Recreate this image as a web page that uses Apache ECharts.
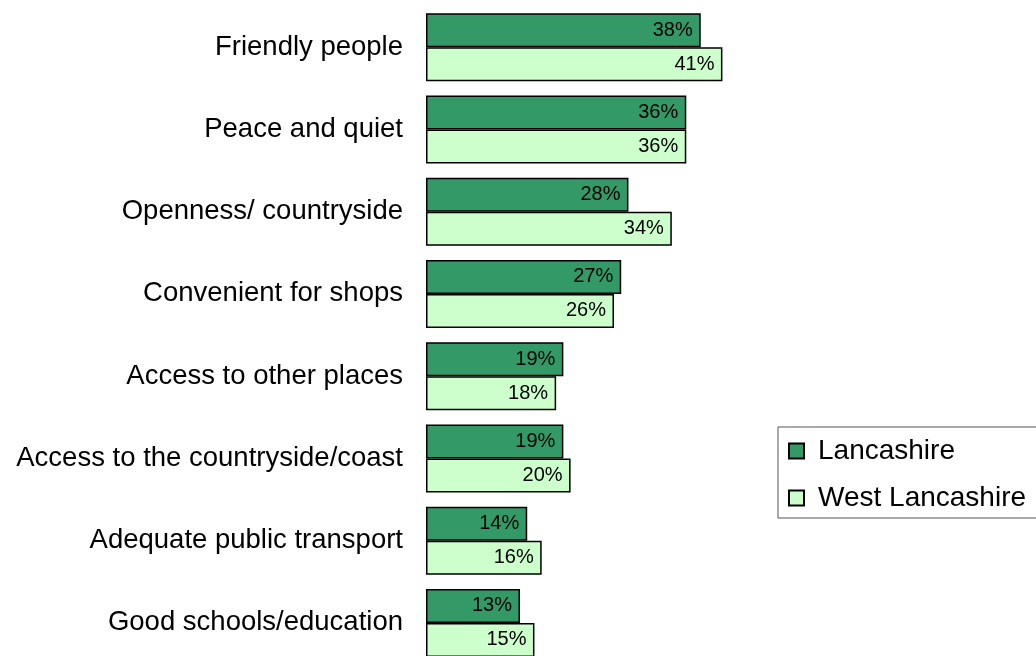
<!DOCTYPE html>
<html>
<head>
<meta charset="utf-8">
<script src="https://cdn.jsdelivr.net/npm/echarts@6/dist/echarts.min.js"></script>
<style>html,body{margin:0;padding:0;background:#fff;overflow:hidden;width:1036px;height:656px}#c{width:1036px;height:672px}</style>
</head>
<body>
<div id="c"></div>
<script>
const categories = ["Friendly people","Peace and quiet","Openness/ countryside","Convenient for shops","Access to other places","Access to the countryside/coast","Adequate public transport","Good schools/education"];
const lancashire = [38,36,28,27,19,19,14,13];
const westLancashire = [41,36,34,26,18,20,16,15];
const seriesNames = ["Lancashire","West Lancashire"];

const chart = echarts.init(document.getElementById('c'));
const font = '"Liberation Sans", Arial, sans-serif';
const pxPerUnit = 7.23;
const xMax = 60;
chart.setOption({
  animation: false,
  backgroundColor: '#fff',
  textStyle: {fontFamily: font},
  grid: {left: 426, top: 6, width: xMax * pxPerUnit, height: 658, containLabel: false},
  xAxis: {type: 'value', min: 0, max: xMax, show: false},
  yAxis: {
    type: 'category', data: categories, inverse: true,
    axisLine: {show: false}, axisTick: {show: false}, splitLine: {show: false},
    axisLabel: {fontSize: 27.5, color: '#000', margin: 23, fontFamily: font, padding: [4, 0, 0, 0]}
  },
  legend: {
    orient: 'vertical', left: 778, top: 427,
    data: seriesNames,
    icon: 'rect', itemWidth: 15, itemHeight: 15, itemGap: 17,
    padding: [9, 20, 5, 10],
    borderColor: '#555', borderWidth: 1, borderRadius: 0,
    textStyle: {fontSize: 28, color: '#000', fontFamily: font, lineHeight: 30, padding: [0,0,0,9]}
  },
  series: [
    {
      name: seriesNames[0], type: 'bar', data: lancashire, barWidth: 34, barGap: '0%',
      itemStyle: {color: '#339966', borderColor: '#000', borderWidth: 1.5},
      label: {show: true, position: 'insideRight', distance: 8, formatter: '{c}%', fontSize: 20, color: '#000', fontFamily: font}
    },
    {
      name: seriesNames[1], type: 'bar', data: westLancashire, barWidth: 34, barGap: '0%',
      itemStyle: {color: '#CCFFCC', borderColor: '#000', borderWidth: 1.5},
      label: {show: true, position: 'insideRight', distance: 8, formatter: '{c}%', fontSize: 20, color: '#000', fontFamily: font}
    }
  ]
});
</script>
</body>
</html>
